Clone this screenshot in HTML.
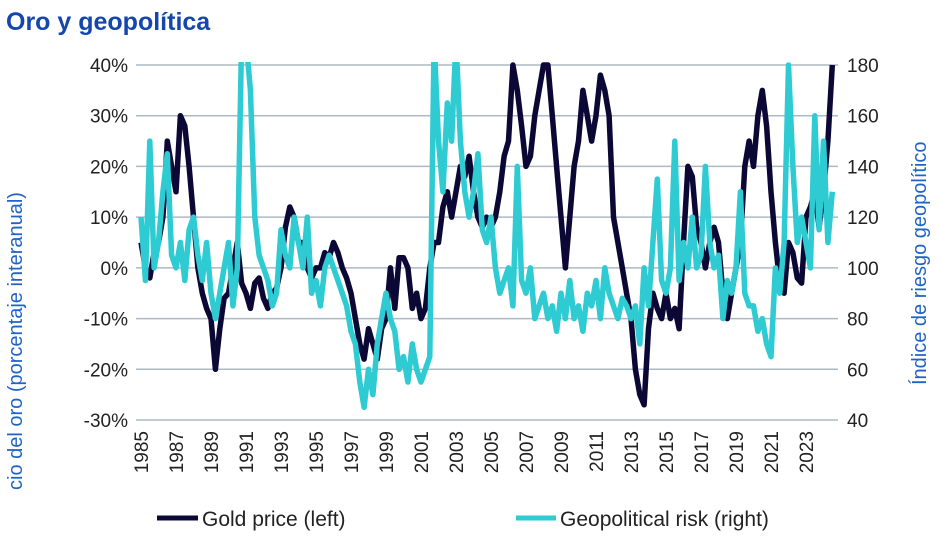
<!DOCTYPE html>
<html><head><meta charset="utf-8"><style>
body{margin:0;background:#fff;width:940px;height:542px;overflow:hidden;font-family:"Liberation Sans",sans-serif}
</style></head><body>
<svg id="c" width="940" height="542" xmlns="http://www.w3.org/2000/svg" style="font-family:'Liberation Sans',sans-serif">
<text x="6" y="30" font-size="25" font-weight="bold" fill="#1446ad">Oro y geopolítica</text>
<defs><clipPath id="pc"><rect x="136" y="62" width="702" height="361"/></clipPath></defs>
<g id="grid"></g><g id="ticks"></g>
<g clip-path="url(#pc)" id="series"></g>
<text transform="translate(22,490) rotate(-90)" font-size="20" fill="#1f63c6">cio del oro (porcentaje interanual)</text>
<text transform="translate(926,385) rotate(-90)" font-size="20" fill="#1f63c6">Índice de riesgo geopolítico</text>
<g>
<line x1="157" y1="518" x2="198" y2="518" stroke="#0b0836" stroke-width="5"/>
<text x="202" y="526" font-size="21" fill="#222">Gold price (left)</text>
<line x1="516" y1="518" x2="556" y2="518" stroke="#2ecbd3" stroke-width="5"/>
<text x="560" y="526" font-size="21" fill="#222">Geopolitical risk (right)</text>
</g>
</svg>
<script>
const startYear = 1985;
const stepsPerYear = 4;
const leftTicks = [40,30,20,10,0,-10,-20,-30];
const rightTicks = [180,160,140,120,100,80,60,40];
const yearLabels = [1985,1987,1989,1991,1993,1995,1997,1999,2001,2003,2005,2007,2009,2011,2013,2015,2017,2019,2021,2023];
const goldPrice = [5,0,-2,3, 5,10,25,20, 15,30,28,20, 10,0,-5,-8, -10,-20,-12,-6, -5,0,5,-3, -5,-8,-3,-2, -6,-8,-5,-4, 0,8,12,10, 5,5,0,-2, 0,0,3,2, 5,3,0,-2, -5,-10,-15,-18, -12,-15,-18,-12, -10,0,-8,2, 2,0,-8,-5, -10,-8,0,5, 5,12,15,10, 15,20,18,22, 15,10,8,10, 8,10,15,22, 25,40,35,28, 20,22,30,35, 40,40,30,20, 10,0,10,20, 25,35,30,25, 30,38,35,30, 10,5,0,-5, -10,-20,-25,-27, -12,-5,-8,-10, -5,-10,-8,-12, 5,20,18,8, 5,0,5,8, 5,-5,-10,-5, 0,5,20,25, 20,30,35,28, 15,5,-3,-5, 5,3,-2,-3, 10,12,15,8, 15,25,40];
const geoRisk = [120,95,150,100, 110,130,145,105, 100,110,95,115, 120,105,95,110, 90,80,90,100, 110,85,100,190, 190,170,120,105, 100,95,85,90, 115,105,100,120, 110,100,120,90, 95,85,100,105, 100,95,90,85, 75,70,55,45, 60,50,70,80, 90,80,75,60, 65,55,70,60, 55,60,65,190, 150,130,165,150, 190,150,130,120, 130,145,115,110, 120,100,90,95, 100,85,140,95, 90,100,80,85, 90,80,85,75, 90,80,95,80, 85,75,90,85, 95,80,100,90, 85,80,88,85, 80,85,70,100, 85,110,135,95, 90,100,150,95, 110,100,120,100, 105,140,110,100, 105,80,95,90, 100,130,90,85, 85,75,80,70, 65,100,90,110, 180,140,110,120, 110,100,160,115, 150,110,130];
const NS='http://www.w3.org/2000/svg';
const xS = y => 141 + (y - 1985) * 17.5;
const yL = v => 65 + (40 - v) * (355 / 70);
const yR = v => 65 + (180 - v) * (355 / 140);
function mk(t,a,p){const e=document.createElementNS(NS,t);for(const k in a)e.setAttribute(k,a[k]);p.appendChild(e);return e;}
const grid=document.getElementById('grid'), ticks=document.getElementById('ticks'), ser=document.getElementById('series');
leftTicks.forEach((v,i)=>{
  const l=mk('line',{x1:136,x2:838,y1:yL(v),y2:yL(v),stroke:'#adb9c6','stroke-width':1.5},grid);
  
  
  const t=mk('text',{x:128,y:yL(v)+7,'text-anchor':'end','font-size':19,fill:'#222'},ticks);
  t.textContent=v+'%';
  
  
});
rightTicks.forEach(v=>{
  const t=mk('text',{x:847,y:yR(v)+7,'font-size':19,fill:'#222'},ticks);
  t.textContent=v;
  
  
});
yearLabels.forEach(y=>{
  const t=mk('text',{transform:`translate(${xS(y)+7},${431}) rotate(-90)`,'text-anchor':'end','font-size':19,fill:'#222'},ticks);
  t.textContent=y;
  
  
});
function path(arr,ys,col,name){
  const d=arr.map((v,i)=>(i?'L':'M')+xS(startYear+i/stepsPerYear).toFixed(1)+','+ys(v).toFixed(1)).join('');
  const p=mk('path',{d:d,fill:'none',stroke:col,'stroke-width':5.5,'stroke-linejoin':'round'},ser);
  
  
}
path(goldPrice,yL,'#0b0836','gold-price-line');
path(geoRisk,yR,'#2ecbd3','geopolitical-risk-line');
</script>
</body></html>
